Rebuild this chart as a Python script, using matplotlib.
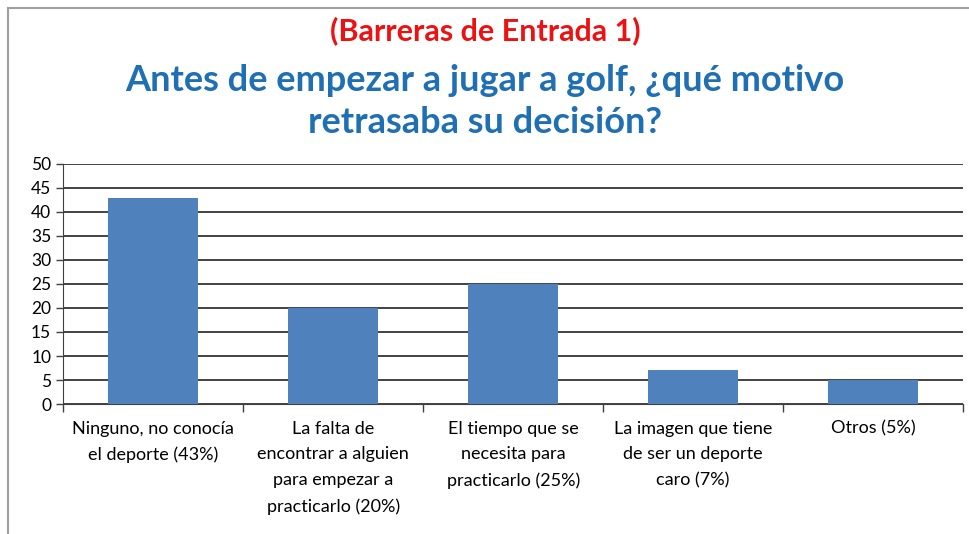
import matplotlib
matplotlib.use("Agg")
from matplotlib import pyplot as plt
from matplotlib.patches import Rectangle
import numpy as np

plt.rcParams['font.family'] = ['Lato', 'DejaVu Sans']

categories = [
    "Ninguno, no conocía\nel deporte (43%)",
    "La falta de\nencontrar a alguien\npara empezar a\npracticarlo (20%)",
    "El tiempo que se\nnecesita para\npracticarlo (25%)",
    "La imagen que tiene\nde ser un deporte\ncaro (7%)",
    "Otros (5%)",
]
values = [43, 20, 25, 7, 5]
yticks = list(range(0, 55, 5))

fig = plt.figure(figsize=(9.7, 5.34), dpi=100)
ax = fig.add_axes([0.065, 0.2434, 0.928, 0.4496])

x = np.arange(len(values))
ax.bar(x, values, width=0.5, color='#4f81bd', zorder=3)

ax.set_xlim(-0.5, len(values) - 0.5)
ax.set_ylim(0, 50)
ax.set_yticks(yticks)
ax.tick_params(axis='y', labelsize=12.5, direction='out', length=5, width=1, colors='#404040', labelcolor='black')
ax.yaxis.grid(True, color='#222222', lw=1.2, zorder=0)

# category ticks sit on the boundaries, labels centred on bars
ax.set_xticks(np.arange(len(values) + 1) - 0.5)
ax.set_xticklabels([])
ax.set_xticks(x, minor=True)
ax.set_xticklabels(categories, minor=True, fontsize=13, linespacing=1.75, va='top')
ax.tick_params(axis='x', which='major', direction='out', length=6, width=1, colors='#404040')
ax.tick_params(axis='x', which='minor', length=0, pad=12)

for s in ['top', 'right']:
    ax.spines[s].set_visible(False)
ax.spines['left'].set_color('#404040')
ax.spines['bottom'].set_color('#404040')

fig.text(0.5, 0.943, "(Barreras de Entrada 1)", ha='center', va='center',
         color='#ee1111', fontsize=22, fontweight='bold')
fig.text(0.5, 0.81, "Antes de empezar a jugar a golf, ¿qué motivo\nretrasaba su decisión?",
         ha='center', va='center', color='#1f6fb4', fontsize=26, fontweight='bold',
         linespacing=1.32)

fig.patches.append(Rectangle((8 / 970, -0.01), 1.0, 1 - 8 / 534 + 0.01,
                             transform=fig.transFigure, fill=False,
                             ec='#a0a0a0', lw=1.5))

fig.savefig("out.png", dpi=100)
